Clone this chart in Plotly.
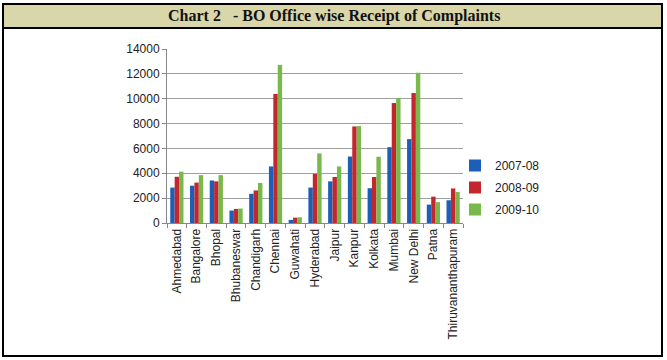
import plotly.graph_objects as go

categories = ["Ahmedabad", "Bangalore", "Bhopal", "Bhubaneswar", "Chandigarh", "Chennai",
              "Guwahati", "Hyderabad", "Jaipur", "Kanpur", "Kolkata", "Mumbai",
              "New Delhi", "Patna", "Thiruvananthapuram"]
y2007_08 = [2850, 3000, 3420, 1000, 2350, 4550, 250, 2850, 3350, 5350, 2800, 6100, 6750, 1480, 1830]
y2008_09 = [3720, 3250, 3350, 1130, 2620, 10380, 430, 3950, 3700, 7770, 3700, 9650, 10450, 2120, 2780]
y2009_10 = [4130, 3850, 3850, 1160, 3220, 12720, 460, 5600, 4550, 7800, 5330, 10060, 12080, 1680, 2500]
series_names = ["2007-08", "2008-09", "2009-10"]
colors = ["#1c5fb8", "#c4262e", "#79b84a"]

W, H = 667, 360
L, R, T, B = 167, 463, 49, 223

def px(x):
    return (x - L) / (R - L)

def py(y):
    return (B - y) / (B - T)

fig = go.Figure()
for name, vals, c in zip(series_names, [y2007_08, y2008_09, y2009_10], colors):
    fig.add_trace(go.Bar(x=categories, y=vals, name=name, marker_color=c,
                         marker_line_width=0, legendgroup=name))

fig.update_layout(
    width=W, height=H,
    margin=dict(l=L, r=W - R, t=T, b=H - B, autoexpand=False),
    paper_bgcolor="white", plot_bgcolor="white",
    barmode="group", bargap=0.33, bargroupgap=0,
    font=dict(family="Liberation Sans, Arial, sans-serif", size=12, color="#222"),
    showlegend=True,
    legend=dict(x=px(455), y=py(151), xanchor="left", yanchor="top",
                font=dict(size=12, color="#222"), itemwidth=30,
                traceorder="grouped", tracegroupgap=3, bgcolor="rgba(0,0,0,0)"),
    xaxis=dict(tickangle=-90, showline=True, linecolor="#888", linewidth=1,
               ticks="outside", tickson="boundaries", ticklen=4, tickcolor="#888",
               tickfont=dict(size=12, color="#222"), showgrid=False, automargin=False),
    yaxis=dict(range=[0, 14000], dtick=2000, tickformat="d", showline=True, linecolor="#888",
               linewidth=1, ticks="outside", ticklen=4, tickcolor="#888",
               showgrid=True, gridcolor="#a0a0a0", gridwidth=1,
               tickfont=dict(size=12, color="#222"), zeroline=False, automargin=False),
    shapes=[
        dict(type="rect", xref="paper", yref="paper",
             x0=px(3), x1=px(662), y0=py(4), y1=py(28),
             fillcolor="#d9d6aa", line=dict(color="black", width=2), layer="below"),
        dict(type="rect", xref="paper", yref="paper",
             x0=px(3), x1=px(662), y0=py(4), y1=py(356),
             line=dict(color="black", width=2)),
    ],
    annotations=[
        dict(text="<b>Chart 2   - BO Office wise Receipt of Complaints</b>",
             xref="paper", yref="paper", x=px(334), y=py(16),
             xanchor="center", yanchor="middle", showarrow=False,
             font=dict(family="Liberation Serif, Times New Roman, serif", size=16, color="#111")),
    ],
)

fig.write_html("out.html", config={"displayModeBar": False},
               post_script="document.body.style.margin='0';document.body.style.overflow='hidden';")
